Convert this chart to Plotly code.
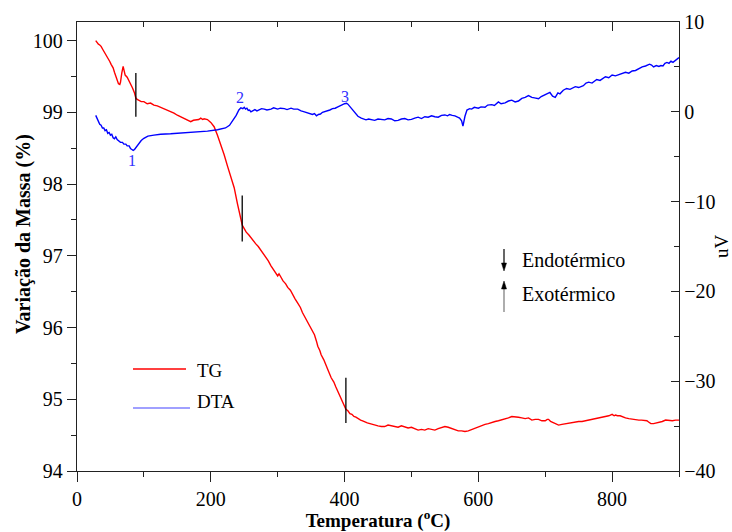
import plotly.graph_objects as go

# ---------------- data ----------------
tg_x = [28, 30, 32, 34, 36, 39, 41, 44, 46, 49, 51, 54, 56, 58, 60, 62, 64, 65, 67, 69, 70, 72, 75, 78, 80, 83,
        86, 88, 90, 92, 96, 100, 105, 110, 115, 120, 125, 130, 135, 140, 145, 150, 155, 160, 162, 166, 170, 174,
        178, 182, 185, 188, 190, 195, 200, 205, 210, 215, 220, 225, 230, 235, 240, 244, 247, 250, 253, 257, 260,
        264, 267, 271, 275, 278, 282, 286, 290, 294, 297, 300, 302, 303, 306, 308, 312, 315, 319, 322, 326, 330,
        334, 337, 341, 345, 348, 350, 353, 355, 358, 360, 363, 365, 369, 372, 376, 380, 384, 387, 391, 395, 399,
        402, 405, 408, 411, 414, 417, 420, 424, 427, 431, 434, 438, 442, 446, 450, 455, 460, 465, 470, 475, 480,
        485, 490, 495, 500, 505, 510, 515, 520, 525, 530, 535, 540, 545, 550, 555, 560, 565, 570, 575, 580, 585,
        590, 595, 600, 605, 610, 615, 620, 625, 630, 635, 640, 645, 650, 655, 660, 665, 670, 675, 680, 685, 690,
        695, 700, 703, 705, 708, 712, 716, 720, 725, 730, 735, 740, 745, 750, 755, 760, 765, 770, 775, 780, 785,
        790, 795, 800, 803, 805, 808, 812, 816, 820, 825, 830, 835, 840, 844, 848, 852, 855, 858, 862, 866, 870,
        875, 880, 885, 890, 895, 900]
tg_y = [100.0, 99.97, 99.95, 99.94, 99.92, 99.87, 99.84, 99.80, 99.76, 99.71, 99.67, 99.62, 99.56, 99.50, 99.44,
        99.40, 99.39, 99.42, 99.55, 99.64, 99.60, 99.52, 99.49, 99.44, 99.41, 99.34, 99.27, 99.20, 99.18, 99.17,
        99.15, 99.15, 99.12, 99.13, 99.10, 99.09, 99.07, 99.06, 99.03, 99.01, 98.99, 98.96, 98.94, 98.92, 98.91,
        98.89, 98.87, 98.89, 98.90, 98.90, 98.92, 98.90, 98.91, 98.90, 98.86, 98.80, 98.68, 98.55, 98.41, 98.25,
        98.10, 97.95, 97.72, 97.55, 97.43, 97.38, 97.33, 97.29, 97.25, 97.21, 97.17, 97.13, 97.08, 97.04, 96.99,
        96.93, 96.86, 96.81, 96.76, 96.72, 96.75, 96.73, 96.69, 96.65, 96.61, 96.56, 96.52, 96.46, 96.40, 96.34,
        96.28, 96.21, 96.14, 96.06, 96.02, 95.98, 95.94, 95.90, 95.81, 95.74, 95.68, 95.62, 95.55, 95.47, 95.39,
        95.30, 95.24, 95.17, 95.09, 95.02, 94.93, 94.86, 94.84, 94.80, 94.79, 94.76, 94.75, 94.73, 94.71, 94.70,
        94.68, 94.67, 94.66, 94.65, 94.63, 94.63, 94.62, 94.62, 94.64, 94.63, 94.61, 94.61, 94.63, 94.62, 94.60,
        94.61, 94.59, 94.57, 94.58, 94.57, 94.59, 94.58, 94.57, 94.59, 94.60, 94.62, 94.61, 94.59, 94.58, 94.56,
        94.56, 94.55, 94.56, 94.58, 94.59, 94.61, 94.63, 94.65, 94.66, 94.68, 94.69, 94.70, 94.71, 94.73, 94.74,
        94.76, 94.76, 94.75, 94.74, 94.73, 94.74, 94.71, 94.72, 94.72, 94.70, 94.70, 94.72, 94.72, 94.69, 94.67,
        94.65, 94.64, 94.65, 94.66, 94.66, 94.67, 94.68, 94.69, 94.69, 94.70, 94.70, 94.71, 94.72, 94.73, 94.74,
        94.75, 94.77, 94.79, 94.77, 94.78, 94.77, 94.77, 94.75, 94.74, 94.73, 94.72, 94.72, 94.71, 94.71, 94.71,
        94.70, 94.68, 94.66, 94.66, 94.67, 94.67, 94.69, 94.71, 94.70, 94.70, 94.71, 94.71]

dta_x = [28, 32, 34, 36, 38, 40, 42, 44, 46, 48, 50, 52, 54, 56, 58, 60, 62, 65, 68, 70, 73, 75, 78, 80, 82, 84,
         86, 88, 90, 92, 94, 96, 100, 106, 115, 125, 140, 160, 180, 195, 210, 222, 228, 233, 238, 242, 245, 248,
         250, 252, 254, 256, 258, 260, 263, 266, 269, 272, 276, 280, 284, 290, 294, 300, 304, 310, 314, 320, 324,
         330, 335, 340, 345, 349, 352, 355, 358, 361, 364, 367, 370, 374, 378, 382, 386, 390, 394, 397, 400, 403,
         405, 408, 410, 415, 420, 425, 432, 436, 440, 445, 450, 455, 460, 465, 470, 475, 480, 485, 490, 495, 500,
         505, 510, 515, 520, 525, 530, 535, 540, 545, 550, 554, 557, 561, 565, 569, 572, 575, 577, 580, 583, 587,
         590, 594, 600, 604, 610, 614, 620, 624, 630, 634, 640, 645, 650, 655, 660, 665, 670, 675, 680, 684, 690,
         694, 700, 704, 707, 711, 715, 719, 722, 727, 732, 737, 745, 750, 757, 761, 765, 770, 777, 782, 790, 795,
         800, 805, 810, 815, 820, 825, 830, 835, 840, 845, 850, 856, 859, 862, 866, 870, 873, 876, 879, 882, 885,
         888, 891, 894, 897, 900]
dta_y = [-0.4, -1.0, -1.4, -1.5, -1.8, -1.8, -2.1, -2.0, -2.4, -2.3, -2.6, -2.5, -2.9, -3.0, -2.8, -3.1, -3.2,
         -3.4, -3.4, -3.6, -3.6, -3.8, -3.8, -4.1, -4.2, -4.3, -4.2, -4.0, -3.8, -3.6, -3.4, -3.2, -2.95, -2.7,
         -2.6, -2.5, -2.45, -2.35, -2.25, -2.15, -2.0, -1.8, -1.5, -1.0, -0.4, 0.2, 0.45, 0.35, 0.5, 0.3, 0.4, 0.15,
         0.2, 0.0, 0.1, 0.25, 0.1, 0.2, 0.35, 0.3, 0.2, 0.3, 0.45, 0.3, 0.4, 0.35, 0.25, 0.4, 0.3, 0.3, 0.1, 0.0,
         -0.1, -0.2, -0.3, -0.2, -0.45, -0.3, -0.25, -0.05, 0.0, 0.15, 0.2, 0.35, 0.4, 0.55, 0.65, 0.8, 0.9,
         0.95, 0.85, 0.6, 0.4, 0.0, -0.5, -0.7, -0.9, -0.8, -0.85, -0.95, -0.8, -0.85, -0.9, -0.75, -0.8, -1.0,
         -0.95, -0.8, -0.75, -0.9, -0.85, -0.7, -0.6, -0.75, -0.55, -0.6, -0.45, -0.55, -0.6, -0.4, -0.35, -0.45,
         -0.3, -0.4, -0.45, -0.6, -0.7, -1.0, -1.6, -0.5, 0.2, 0.35, 0.3, 0.5, 0.4, 0.55, 0.5, 0.75, 0.8, 0.7,
         1.1, 0.9, 1.0, 1.2, 1.3, 1.1, 1.2, 1.5, 1.6, 1.8, 1.6, 1.55, 1.45, 1.7, 1.9, 2.0, 2.15, 1.75, 1.6, 2.1,
         2.0, 2.4, 2.6, 2.5, 2.8, 2.7, 2.9, 3.2, 3.3, 3.2, 3.6, 3.5, 3.9, 3.8, 4.1, 4.0, 4.15, 4.3, 4.4, 4.3,
         4.55, 4.6, 4.8, 5.0, 5.1, 5.3, 5.2, 5.0, 5.15, 5.05, 5.15, 5.1, 5.4, 5.5, 5.4, 5.65, 5.5, 5.7, 5.85,
         6.05]

# step markers on the TG curve (x, y-bottom, y-top)
mark_x = [88, 247, 402]
mark_y0 = [98.94, 97.20, 94.67]
mark_y1 = [99.55, 97.84, 95.30]

# DTA event labels
evt_text = ["1", "2", "3"]
evt_x = [82, 244, 401]
evt_y = [-5.4, 1.6, 1.7]

x_ticks = [0, 200, 400, 600, 800]
y_ticks = [94, 95, 96, 97, 98, 99, 100]
y2_ticks = [-40, -30, -20, -10, 0, 10]

FONT = "Liberation Serif, Times New Roman, serif"
L, R, T, B, W, H = 77, 53, 22, 61, 732, 532
PW, PH = W - L - R, H - T - B


def px(x):
    return (x - L) / PW


def py(y):
    return (H - B - y) / PH


fig = go.Figure()
fig.add_trace(go.Scatter(x=tg_x, y=tg_y, mode="lines", line=dict(color="#ff0000", width=1.4),
                         name="TG", yaxis="y", showlegend=False))
fig.add_trace(go.Scatter(x=dta_x, y=dta_y, mode="lines", line=dict(color="#0000ff", width=1.4),
                         name="DTA", yaxis="y2", showlegend=False))
for i in range(len(mark_x)):
    fig.add_trace(go.Scatter(x=[mark_x[i], mark_x[i]], y=[mark_y0[i], mark_y1[i]], mode="lines",
                             line=dict(color="black", width=1.3), yaxis="y", showlegend=False,
                             hoverinfo="skip"))

annotations = []
for t, xx, yy in zip(evt_text, evt_x, evt_y):
    annotations.append(dict(x=xx, y=yy, xref="x", yref="y2", text=t, showarrow=False,
                            font=dict(family=FONT, size=16, color="#3030ff")))

leg_font = dict(family=FONT, size=19, color="black")
txt_font = dict(family=FONT, size=20, color="black")
title_font = dict(family=FONT, size=19, color="black")
# legend (custom) + endo/exo arrows
shapes = [
    dict(type="line", xref="paper", yref="paper", x0=px(133), x1=px(186), y0=py(369), y1=py(369),
         line=dict(color="#ff0000", width=1.5)),
    dict(type="line", xref="paper", yref="paper", x0=px(133), x1=px(190), y0=py(408), y1=py(408),
         line=dict(color="#8080ff", width=1.5)),
    # down arrow (endothermic)
    dict(type="line", xref="paper", yref="paper", x0=px(504), x1=px(504), y0=py(249), y1=py(264),
         line=dict(color="black", width=1.2)),
    dict(type="path", xref="paper", yref="paper",
         path=f"M {px(501.5)} {py(263)} L {px(506.5)} {py(263)} L {px(504)} {py(271)} Z",
         fillcolor="black", line=dict(color="black", width=0.5)),
    # up arrow (exothermic)
    dict(type="line", xref="paper", yref="paper", x0=px(504), x1=px(504), y0=py(312), y1=py(288),
         line=dict(color="#777777", width=1.2)),
    dict(type="path", xref="paper", yref="paper",
         path=f"M {px(501.5)} {py(289)} L {px(506.5)} {py(289)} L {px(504)} {py(281)} Z",
         fillcolor="black", line=dict(color="black", width=0.5)),
]
annotations += [
    dict(x=px(195), y=py(370), xref="paper", yref="paper", text="TG", showarrow=False, xanchor="left",
         yanchor="middle", font=leg_font),
    dict(x=px(195), y=py(401), xref="paper", yref="paper", text="DTA", showarrow=False, xanchor="left",
         yanchor="middle", font=leg_font),
    dict(x=px(520), y=py(260), xref="paper", yref="paper", text="Endotérmico", showarrow=False,
         xanchor="left", yanchor="middle", font=txt_font),
    dict(x=px(520), y=py(294), xref="paper", yref="paper", text="Exotérmico", showarrow=False,
         xanchor="left", yanchor="middle", font=txt_font),
    # left axis title
    dict(x=px(23), y=py(234), xref="paper", yref="paper", text="<b>Variação da Massa (%)</b>",
         showarrow=False, textangle=-90, xanchor="center", yanchor="middle",
         font=dict(family=FONT, size=20, color="black")),
]

axis_font = dict(family=FONT, size=20, color="black")

fig.update_layout(
    width=W, height=H,
    margin=dict(l=L, r=R, t=T, b=B),
    paper_bgcolor="white", plot_bgcolor="white",
    font=dict(family=FONT, color="black"),
    xaxis=dict(range=[0, 900], tickvals=x_ticks, ticks="outside", ticklen=10, tickwidth=1.3,
               tickcolor="#222", showline=True, linecolor="#222", linewidth=1.3, showgrid=False,
               zeroline=False, tickfont=axis_font, automargin=False,
               minor=dict(dtick=100, tick0=0, ticks="outside", ticklen=5, tickwidth=1.3, tickcolor="#222"),
               title=dict(text="<b>Temperatura (<sup>o</sup>C)</b>", font=title_font, standoff=8)),
    xaxis2=dict(range=[0, 900], overlaying="x", side="top", tickvals=x_ticks, ticks="inside", ticklen=9,
                tickwidth=1.3, tickcolor="#222", showline=True, linecolor="#222", linewidth=1.3,
                showgrid=False, zeroline=False, showticklabels=False, automargin=False,
                minor=dict(dtick=100, tick0=0, ticks="inside", ticklen=5, tickwidth=1.3, tickcolor="#222")),
    yaxis=dict(range=[94, 100.26], tickvals=y_ticks, ticks="outside", ticklen=9, tickwidth=1.3,
               tickcolor="#222", showline=True, linecolor="#222", linewidth=1.3, showgrid=False,
               zeroline=False, tickfont=axis_font, automargin=False,
               minor=dict(dtick=0.5, tick0=94, ticks="outside", ticklen=5, tickwidth=1.3, tickcolor="#222")),
    yaxis2=dict(range=[-40, 10], overlaying="y", side="right", tickvals=y2_ticks, ticks="inside",
                ticklen=8, tickwidth=1.3, tickcolor="#222", showline=True, linecolor="#222", linewidth=1.3,
                showgrid=False, zeroline=False, tickfont=axis_font, automargin=False,
                minor=dict(dtick=5, tick0=-40, ticks="inside", ticklen=5, tickwidth=1.3, tickcolor="#222"),
                title=dict(text="uV", font=dict(family=FONT, size=19, color="black"), standoff=4)),
    shapes=shapes,
    annotations=annotations,
)
# invisible trace to show the top axis
fig.add_trace(go.Scatter(x=[0], y=[94], xaxis="x2", yaxis="y", mode="markers", marker=dict(opacity=0),
                         showlegend=False, hoverinfo="skip"))

fig.write_html("out.html")
